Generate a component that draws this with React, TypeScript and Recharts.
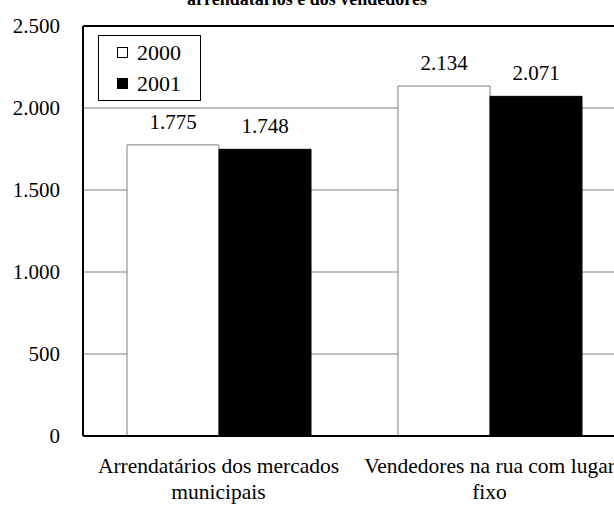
import React from "react";
import { BarChart, Bar, XAxis, YAxis, CartesianGrid, LabelList, ReferenceLine } from "recharts";

const categories = ["Arrendatários dos mercados\nmunicipais", "Vendedores na rua com lugar\nfixo"];
const values2000 = [1775, 2134];
const values2001 = [1748, 2071];
const seriesNames = ["2000", "2001"];
const yTicks = [0, 500, 1000, 1500, 2000, 2500];
const title = "arrendatários  e dos vendedores";

const FONT = "'Liberation Serif', 'Times New Roman', serif";

const fmt = (v: number) => String(v).replace(/\B(?=(\d{3})+(?!\d))/g, ".");

const data = categories.map((name, i) => ({
  name,
  v2000: values2000[i],
  v2001: values2001[i],
}));

const CategoryTick = (props: any) => {
  const { x, y, payload } = props;
  const lines = String(payload.value).split("\n");
  return (
    <text x={x} y={y} textAnchor="middle" fontSize={21.5} fontFamily={FONT} fill="#000">
      {lines.map((l, i) => (
        <tspan key={i} x={x} dy={i === 0 ? 37 : 26}>
          {l}
        </tspan>
      ))}
    </text>
  );
};

// legend drawn as a plain box over the plot, top-left
const LegendBox = () => (
  <div
    style={{
      position: "absolute",
      left: 98,
      top: 35,
      zIndex: 3,
      border: "1px solid #000",
      background: "#fff",
      width: 103,
      height: 66,
      boxSizing: "border-box",
      padding: "1px 0 0 18px",
      fontFamily: FONT,
      fontSize: 22,
      lineHeight: "31px",
      color: "#000",
    }}
  >
    {seriesNames.map((s, i) => (
      <div key={s} style={{ display: "flex", alignItems: "center" }}>
        <span
          style={{
            display: "inline-block",
            width: 11,
            height: 11,
            boxSizing: "border-box",
            border: "1px solid #000",
            background: i === 0 ? "#fff" : "#000",
            marginRight: 9,
          }}
        />
        <span>{s}</span>
      </div>
    ))}
  </div>
);

export default function App() {
  return (
    <div
      style={{
        position: "absolute",
        left: 0,
        top: 0,
        width: 614,
        height: 505,
        overflow: "hidden",
        background: "#fff",
      }}
    >
      <svg width={614} height={20} style={{ position: "absolute", left: 0, top: 0, zIndex: 2 }}>
        <text x={307} y={5} textAnchor="middle" fontSize={18} fontWeight="bold" fontFamily={FONT} fill="#000">
          {title}
        </text>
      </svg>
      <LegendBox />
      <BarChart
        width={640}
        height={505}
        data={data}
        margin={{ top: 26, right: 15, bottom: 0, left: 0 }}
        barCategoryGap={44}
        barGap={0}
      >
        <CartesianGrid vertical={false} stroke="#808080" strokeWidth={1} />
        <ReferenceLine y={2500} stroke="#000" strokeWidth={2} />
        <XAxis
          dataKey="name"
          height={69}
          tickLine={false}
          tickSize={0}
          tickMargin={0}
          axisLine={{ stroke: "#000", strokeWidth: 2 }}
          tick={<CategoryTick />}
          interval={0}
        />
        <XAxis
          xAxisId="marks"
          type="number"
          domain={[0, 2]}
          ticks={[1]}
          allowDataOverflow
          mirror
          height={0}
          tickSize={7}
          axisLine={false}
          tickLine={{ stroke: "#808080", strokeWidth: 1.5 }}
          tickFormatter={() => ""}
        />
        <YAxis
          width={83}
          domain={[0, 2500]}
          ticks={yTicks}
          tickLine={false}
          tickSize={0}
          tickMargin={23}
          tickFormatter={fmt}
          axisLine={{ stroke: "#000", strokeWidth: 2 }}
          tick={{ fontSize: 21, fontFamily: FONT, fill: "#000" }}
        />
        <Bar dataKey="v2000" name={seriesNames[0]} fill="#fff" stroke="#808080" strokeWidth={1} isAnimationActive={false}>
          <LabelList
            dataKey="v2000"
            position="top"
            offset={16}
            formatter={(v: any) => fmt(Number(v))}
            style={{ fontSize: 21, fontFamily: FONT, fill: "#000" }}
          />
        </Bar>
        <Bar dataKey="v2001" name={seriesNames[1]} fill="#000" stroke="#000" strokeWidth={1} isAnimationActive={false}>
          <LabelList
            dataKey="v2001"
            position="top"
            offset={16}
            formatter={(v: any) => fmt(Number(v))}
            style={{ fontSize: 21, fontFamily: FONT, fill: "#000" }}
          />
        </Bar>
      </BarChart>
    </div>
  );
}
